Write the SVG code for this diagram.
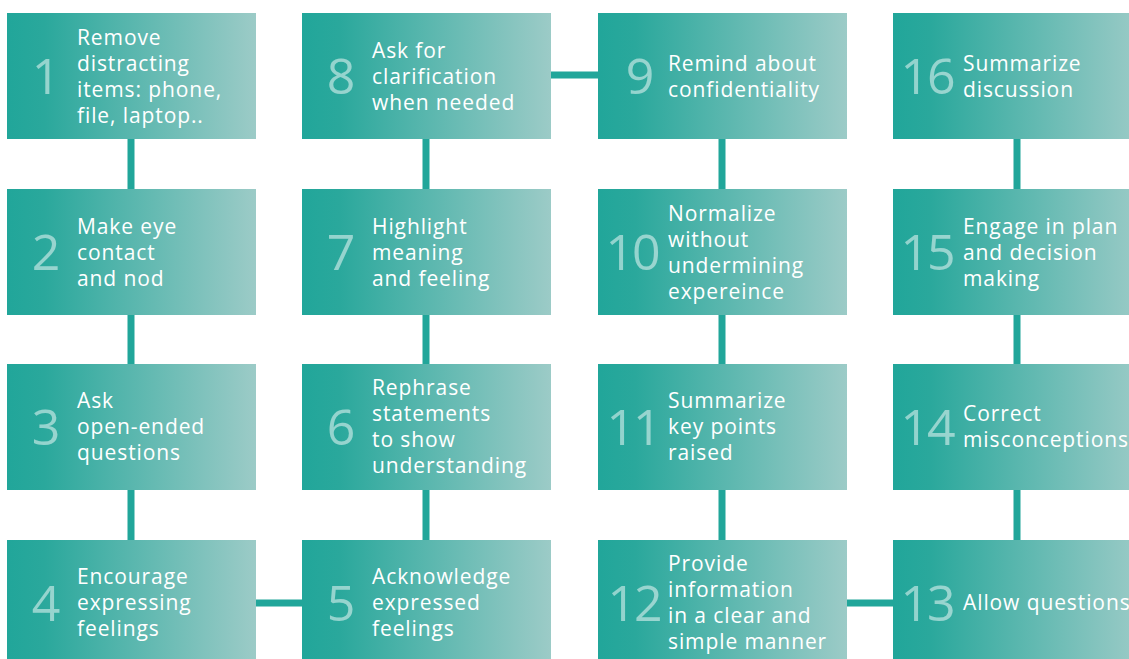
<svg xmlns="http://www.w3.org/2000/svg" width="1129" height="659" viewBox="0 0 1129 659">
<defs>
<linearGradient id="g" x1="0" y1="0" x2="1" y2="0">
<stop offset="0" stop-color="#21a69a"/>
<stop offset="0.15" stop-color="#2aa89c"/>
<stop offset="1" stop-color="#9ccbc7"/>
</linearGradient>
<style>
.box{fill:url(#g)}
.num{font-family:"Open Sans","Lato",sans-serif;font-weight:400;font-size:50px;fill:#ffffff;fill-opacity:0.5;text-anchor:middle;letter-spacing:-2px}
.txt{font-family:"Open Sans","Lato",sans-serif;font-weight:500;font-size:21px;fill:#ffffff;letter-spacing:0.9px}
.c{stroke:#21a69a;stroke-width:7;fill:none}
</style>
</defs>
<rect width="1129" height="659" fill="#ffffff"/>
<g id="connectors">
<line class="c" x1="131" y1="139" x2="131" y2="540"/>
<line class="c" x1="426" y1="139" x2="426" y2="540"/>
<line class="c" x1="722" y1="139" x2="722" y2="540"/>
<line class="c" x1="1017" y1="139" x2="1017" y2="540"/>
<line class="c" x1="256" y1="603" x2="302" y2="603"/>
<line class="c" x1="551" y1="75" x2="598" y2="75"/>
<line class="c" x1="847" y1="603" x2="893" y2="603"/>
</g>
<g id="n1"><rect class="box" x="7" y="13" width="249" height="126"/><text class="num" x="45" y="94">1</text><text class="txt" x="77" y="45">Remove</text><text class="txt" x="77" y="71">distracting</text><text class="txt" x="77" y="97">items: phone,</text><text class="txt" x="77" y="123">file, laptop..</text></g>
<g id="n2"><rect class="box" x="7" y="189" width="249" height="126"/><text class="num" x="45" y="270">2</text><text class="txt" x="77" y="234">Make eye</text><text class="txt" x="77" y="260">contact</text><text class="txt" x="77" y="286">and nod</text></g>
<g id="n3"><rect class="box" x="7" y="364" width="249" height="126"/><text class="num" x="45" y="445">3</text><text class="txt" x="77" y="408">Ask</text><text class="txt" x="77" y="434">open-ended</text><text class="txt" x="77" y="460">questions</text></g>
<g id="n4"><rect class="box" x="7" y="540" width="249" height="126"/><text class="num" x="45" y="621">4</text><text class="txt" x="77" y="584">Encourage</text><text class="txt" x="77" y="610">expressing</text><text class="txt" x="77" y="636">feelings</text></g>
<g id="n5"><rect class="box" x="302" y="540" width="249" height="126"/><text class="num" x="340" y="621">5</text><text class="txt" x="372" y="584">Acknowledge</text><text class="txt" x="372" y="610">expressed</text><text class="txt" x="372" y="636">feelings</text></g>
<g id="n6"><rect class="box" x="302" y="364" width="249" height="126"/><text class="num" x="340" y="445">6</text><text class="txt" x="372" y="395">Rephrase</text><text class="txt" x="372" y="421">statements</text><text class="txt" x="372" y="447">to show</text><text class="txt" x="372" y="473">understanding</text></g>
<g id="n7"><rect class="box" x="302" y="189" width="249" height="126"/><text class="num" x="340" y="270">7</text><text class="txt" x="372" y="234">Highlight</text><text class="txt" x="372" y="260">meaning</text><text class="txt" x="372" y="286">and feeling</text></g>
<g id="n8"><rect class="box" x="302" y="13" width="249" height="126"/><text class="num" x="340" y="94">8</text><text class="txt" x="372" y="58">Ask for</text><text class="txt" x="372" y="84">clarification</text><text class="txt" x="372" y="110">when needed</text></g>
<g id="n9"><rect class="box" x="598" y="13" width="249" height="126"/><text class="num" x="639" y="94">9</text><text class="txt" x="668" y="71">Remind about</text><text class="txt" x="668" y="97">confidentiality</text></g>
<g id="n10"><rect class="box" x="598" y="189" width="249" height="126"/><text class="num" x="632" y="270">10</text><text class="txt" x="668" y="221">Normalize</text><text class="txt" x="668" y="247">without</text><text class="txt" x="668" y="273">undermining</text><text class="txt" x="668" y="299">expereince</text></g>
<g id="n11"><rect class="box" x="598" y="364" width="249" height="126"/><text class="num" x="633" y="445">11</text><text class="txt" x="668" y="408">Summarize</text><text class="txt" x="668" y="434">key points</text><text class="txt" x="668" y="460">raised</text></g>
<g id="n12"><rect class="box" x="598" y="540" width="249" height="126"/><text class="num" x="634" y="621">12</text><text class="txt" x="668" y="571">Provide</text><text class="txt" x="668" y="597">information</text><text class="txt" x="668" y="623">in a clear and</text><text class="txt" x="668" y="649">simple manner</text></g>
<g id="n13"><rect class="box" x="893" y="540" width="249" height="126"/><text class="num" x="927" y="621">13</text><text class="txt" x="963" y="610">Allow questions</text></g>
<g id="n14"><rect class="box" x="893" y="364" width="249" height="126"/><text class="num" x="927" y="445">14</text><text class="txt" x="963" y="421">Correct</text><text class="txt" x="963" y="447">misconceptions</text></g>
<g id="n15"><rect class="box" x="893" y="189" width="249" height="126"/><text class="num" x="927" y="270">15</text><text class="txt" x="963" y="234">Engage in plan</text><text class="txt" x="963" y="260">and decision</text><text class="txt" x="963" y="286">making</text></g>
<g id="n16"><rect class="box" x="893" y="13" width="249" height="126"/><text class="num" x="927" y="94">16</text><text class="txt" x="963" y="71">Summarize</text><text class="txt" x="963" y="97">discussion</text></g>
</svg>
